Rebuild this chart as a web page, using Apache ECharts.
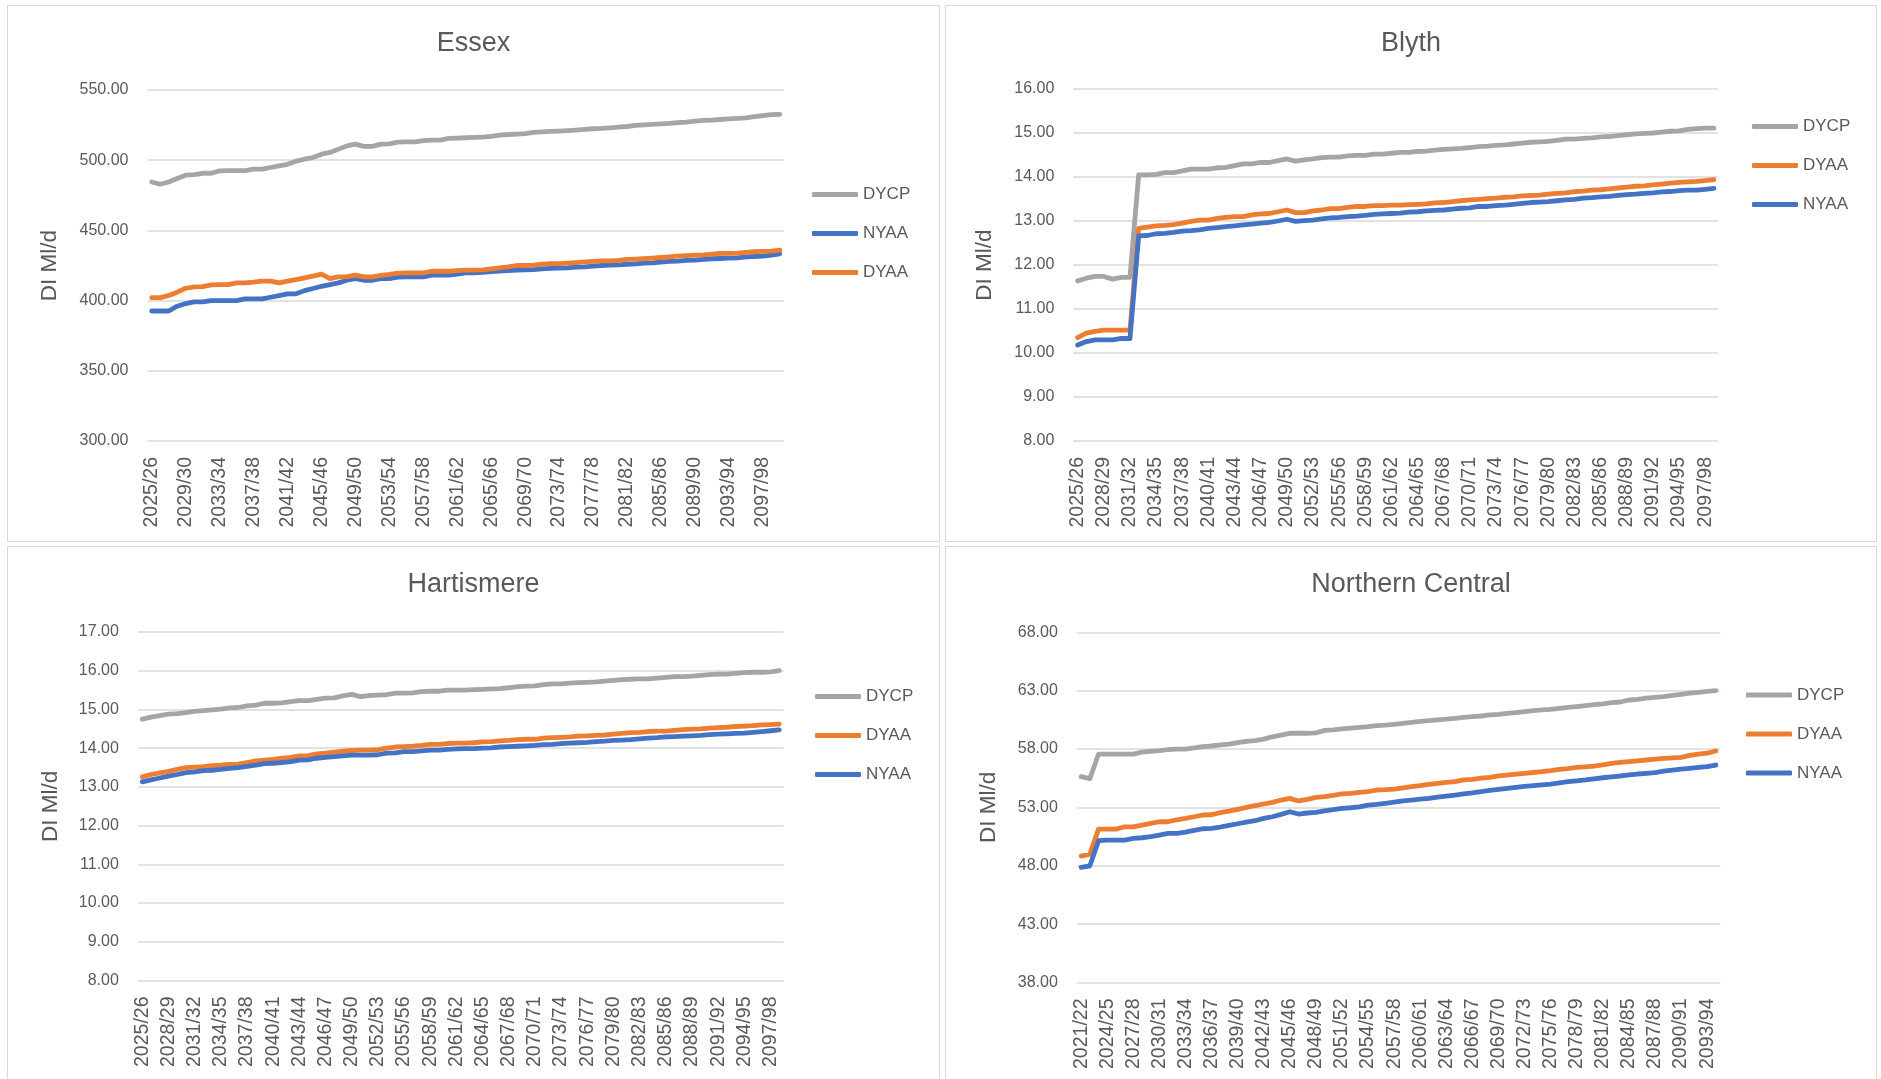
<!DOCTYPE html>
<html>
<head>
<meta charset="utf-8">
<title>Distribution input forecasts</title>
<script src="https://cdn.jsdelivr.net/npm/echarts@6/dist/echarts.min.js"></script>
<style>
  html, body { margin: 0; padding: 0; background: #ffffff; width: 1881px; height: 1079px; overflow: hidden; }
  .panel { position: absolute; box-sizing: border-box; border: 1px solid #d9d9d9; background: #ffffff; }
</style>
</head>
<body>
<div id="essex" class="panel" style="left:7px;top:5px;width:933px;height:537px"></div>
<div id="blyth" class="panel" style="left:945px;top:5px;width:932px;height:537px"></div>
<div id="hartismere" class="panel" style="left:7px;top:546px;width:933px;height:540px"></div>
<div id="northern" class="panel" style="left:945px;top:546px;width:932px;height:540px"></div>
<script>
// Report-year labels such as "2025/26"
function yearLabels(firstYear, count) {
  const out = [];
  for (let k = 0; k < count; k++) {
    const y = firstYear + k;
    out.push(y + '/' + String((y + 1) % 100).padStart(2, '0'));
  }
  return out;
}

// ---- Essex (Ml/d) ----
const essexYears = yearLabels(2025, 75);
const essexDYCP = [484.5, 482.9, 484.5, 486.9, 489.3, 489.8, 490.7, 490.7, 492.4, 492.6, 492.6, 492.6, 493.6, 493.6, 494.8, 496.0, 497.1, 499.3, 500.7, 501.9, 504.3, 505.5, 507.9, 510.2, 511.4, 509.8, 509.8, 511.4, 511.7, 512.9, 513.1, 513.1, 514.0, 514.3, 514.3, 515.5, 515.7,
  516.0, 516.2, 516.5, 516.9, 517.9, 518.3, 518.6, 519.0, 519.8, 520.2, 520.5, 520.7, 521.0, 521.4, 521.9, 522.4, 522.6, 523.1, 523.6, 524.0, 524.8, 525.2, 525.5, 525.9, 526.2, 526.7, 527.1, 527.9, 528.3, 528.6, 529.0, 529.5, 529.8, 530.2, 531.0, 531.7, 532.4, 532.6];
const essexNYAA = [392.6, 392.6, 392.6, 396.0, 397.9, 399.1, 399.1, 400.0, 400.0, 400.0, 400.0, 401.2, 401.2, 401.2, 402.4, 403.6, 404.8, 404.8, 407.1, 408.6, 410.2, 411.4, 412.6, 414.5, 415.7, 414.5, 414.5, 415.7, 415.7, 416.7, 416.9, 416.9, 416.9, 418.1, 418.1, 418.1, 418.8,
  419.8, 419.8, 420.2, 420.7, 421.0, 421.4, 421.7, 421.9, 422.1, 422.6, 422.9, 423.1, 423.3, 423.8, 424.0, 424.5, 425.0, 425.2, 425.5, 425.9, 426.2, 426.7, 426.9, 427.4, 427.9, 428.1, 428.6, 428.8, 429.3, 429.8, 430.0, 430.2, 430.5, 431.2, 431.4, 431.7, 432.4, 433.3];
const essexDYAA = [402.1, 402.1, 403.6, 406.0, 408.8, 409.8, 410.0, 411.2, 411.4, 411.4, 412.6, 412.6, 413.1, 413.8, 413.8, 412.6, 413.8, 415.0, 416.2, 417.4, 418.8, 415.7, 416.9, 417.1, 418.1, 416.9, 416.9, 417.9, 418.6, 419.5, 419.8, 419.8, 419.8, 420.9, 420.9, 420.9, 421.4,
  421.7, 421.7, 421.9, 422.6, 423.3, 424.0, 425.0, 425.0, 425.2, 425.9, 426.4, 426.4, 426.7, 427.1, 427.6, 427.9, 428.3, 428.3, 428.6, 429.3, 429.5, 429.8, 430.2, 430.7, 431.2, 431.7, 432.1, 432.4, 432.6, 433.1, 433.6, 433.6, 433.8, 434.3, 434.8, 435.0, 435.2, 435.9];

// ---- Blyth (Ml/d) ----
const blythYears = yearLabels(2025, 74);
const blythDYCP = [11.64, 11.70, 11.74, 11.74, 11.68, 11.72, 11.72, 14.05, 14.05, 14.06, 14.10, 14.10, 14.14, 14.18, 14.18, 14.18, 14.21, 14.22, 14.26, 14.30, 14.30, 14.33, 14.33, 14.37, 14.41, 14.36, 14.39, 14.41, 14.44, 14.45, 14.45, 14.48, 14.49, 14.49, 14.52, 14.52, 14.54,
  14.56, 14.56, 14.58, 14.59, 14.61, 14.63, 14.64, 14.65, 14.67, 14.69, 14.70, 14.72, 14.73, 14.75, 14.77, 14.79, 14.80, 14.81, 14.83, 14.86, 14.86, 14.88, 14.89, 14.91, 14.92, 14.94, 14.96, 14.98, 14.99, 15.00, 15.02, 15.04, 15.05, 15.08, 15.10, 15.11, 15.11];
const blythDYAA = [10.35, 10.45, 10.49, 10.52, 10.52, 10.52, 10.52, 12.83, 12.86, 12.89, 12.90, 12.92, 12.95, 12.99, 13.02, 13.02, 13.06, 13.08, 13.10, 13.10, 13.14, 13.16, 13.17, 13.21, 13.25, 13.19, 13.19, 13.23, 13.25, 13.28, 13.28, 13.31, 13.33, 13.33, 13.35, 13.35, 13.36,
  13.36, 13.37, 13.38, 13.39, 13.41, 13.42, 13.44, 13.46, 13.48, 13.49, 13.51, 13.52, 13.54, 13.55, 13.57, 13.58, 13.59, 13.61, 13.63, 13.64, 13.67, 13.68, 13.70, 13.71, 13.73, 13.75, 13.77, 13.79, 13.80, 13.82, 13.84, 13.86, 13.88, 13.89, 13.90, 13.92, 13.94];
const blythNYAA = [10.18, 10.26, 10.30, 10.30, 10.30, 10.33, 10.33, 12.66, 12.67, 12.71, 12.72, 12.74, 12.77, 12.78, 12.80, 12.83, 12.85, 12.87, 12.89, 12.91, 12.93, 12.95, 12.97, 13.00, 13.04, 12.99, 13.01, 13.02, 13.05, 13.07, 13.08, 13.10, 13.11, 13.13, 13.15, 13.16, 13.17,
  13.18, 13.20, 13.21, 13.23, 13.24, 13.25, 13.27, 13.29, 13.30, 13.33, 13.33, 13.35, 13.36, 13.38, 13.40, 13.42, 13.43, 13.44, 13.46, 13.48, 13.49, 13.52, 13.53, 13.55, 13.56, 13.58, 13.60, 13.61, 13.63, 13.64, 13.66, 13.67, 13.69, 13.70, 13.70, 13.72, 13.74];

// ---- Hartismere (Ml/d) ----
const hartYears = yearLabels(2025, 74);
const hartDYCP = [14.75, 14.80, 14.84, 14.88, 14.89, 14.92, 14.95, 14.97, 14.99, 15.01, 15.04, 15.05, 15.09, 15.11, 15.16, 15.16, 15.17, 15.20, 15.23, 15.23, 15.26, 15.29, 15.30, 15.35, 15.39, 15.33, 15.36, 15.37, 15.38, 15.42, 15.42, 15.43, 15.46, 15.47, 15.47, 15.50, 15.50, 15.50,
  15.51, 15.52, 15.53, 15.54, 15.56, 15.59, 15.60, 15.61, 15.64, 15.66, 15.66, 15.68, 15.69, 15.70, 15.71, 15.73, 15.75, 15.77, 15.78, 15.79, 15.79, 15.81, 15.83, 15.85, 15.85, 15.86, 15.88, 15.90, 15.91, 15.91, 15.93, 15.95, 15.96, 15.96, 15.97, 16.00];
const hartDYAA = [13.26, 13.32, 13.36, 13.40, 13.45, 13.50, 13.51, 13.52, 13.55, 13.56, 13.58, 13.59, 13.63, 13.67, 13.69, 13.71, 13.74, 13.76, 13.80, 13.81, 13.85, 13.87, 13.90, 13.92, 13.94, 13.95, 13.95, 13.96, 14.00, 14.03, 14.04, 14.05, 14.07, 14.10, 14.10, 14.12, 14.13, 14.13,
  14.14, 14.16, 14.17, 14.19, 14.20, 14.22, 14.23, 14.23, 14.26, 14.27, 14.28, 14.29, 14.31, 14.32, 14.33, 14.34, 14.36, 14.38, 14.40, 14.41, 14.43, 14.44, 14.44, 14.46, 14.48, 14.49, 14.50, 14.52, 14.53, 14.54, 14.56, 14.57, 14.58, 14.60, 14.61, 14.62];
const hartNYAA = [13.13, 13.18, 13.23, 13.28, 13.32, 13.37, 13.39, 13.42, 13.43, 13.45, 13.48, 13.50, 13.53, 13.56, 13.60, 13.61, 13.63, 13.65, 13.69, 13.70, 13.74, 13.76, 13.78, 13.80, 13.82, 13.82, 13.82, 13.83, 13.87, 13.88, 13.91, 13.91, 13.93, 13.95, 13.95, 13.97, 13.98, 13.99,
  13.99, 14.00, 14.01, 14.03, 14.04, 14.05, 14.06, 14.07, 14.09, 14.10, 14.12, 14.13, 14.14, 14.15, 14.17, 14.18, 14.20, 14.21, 14.22, 14.24, 14.26, 14.27, 14.29, 14.30, 14.31, 14.32, 14.33, 14.35, 14.36, 14.37, 14.38, 14.39, 14.41, 14.43, 14.45, 14.47];

// ---- Northern Central (Ml/d) ----
const ncYears = yearLabels(2021, 74);
const ncDYCP = [55.63, 55.46, 57.57, 57.57, 57.57, 57.57, 57.57, 57.74, 57.80, 57.86, 57.95, 58.00, 58.00, 58.09, 58.20, 58.26, 58.35, 58.43, 58.55, 58.66, 58.72, 58.85, 59.05, 59.20, 59.35, 59.35, 59.35, 59.38, 59.60, 59.65, 59.72, 59.80, 59.86, 59.92, 60.00, 60.05, 60.12, 60.20,
  60.29, 60.36, 60.43, 60.50, 60.57, 60.62, 60.72, 60.78, 60.83, 60.92, 60.97, 61.05, 61.12, 61.20, 61.29, 61.35, 61.40, 61.48, 61.57, 61.64, 61.72, 61.80, 61.86, 61.97, 62.03, 62.20, 62.25, 62.37, 62.43, 62.49, 62.60, 62.69, 62.78, 62.86, 62.93, 63.00];
const ncDYAA = [48.83, 49.00, 51.14, 51.14, 51.14, 51.34, 51.34, 51.49, 51.63, 51.77, 51.77, 51.94, 52.06, 52.20, 52.35, 52.37, 52.55, 52.69, 52.83, 53.00, 53.15, 53.29, 53.43, 53.63, 53.77, 53.55, 53.69, 53.86, 53.92, 54.03, 54.15, 54.20, 54.29, 54.35, 54.49, 54.52, 54.57, 54.68,
  54.77, 54.87, 54.97, 55.06, 55.15, 55.20, 55.35, 55.40, 55.50, 55.57, 55.70, 55.77, 55.85, 55.92, 55.99, 56.06, 56.15, 56.26, 56.33, 56.43, 56.48, 56.54, 56.65, 56.77, 56.85, 56.92, 56.99, 57.06, 57.13, 57.20, 57.25, 57.29, 57.45, 57.57, 57.65, 57.83];
const ncNYAA = [47.86, 48.00, 50.15, 50.20, 50.20, 50.20, 50.35, 50.40, 50.49, 50.63, 50.77, 50.77, 50.89, 51.03, 51.17, 51.20, 51.32, 51.46, 51.60, 51.74, 51.86, 52.06, 52.20, 52.40, 52.63, 52.43, 52.52, 52.58, 52.70, 52.80, 52.92, 52.97, 53.05, 53.20, 53.26, 53.35, 53.45, 53.55,
  53.63, 53.70, 53.77, 53.87, 53.97, 54.05, 54.15, 54.25, 54.35, 54.45, 54.54, 54.63, 54.72, 54.80, 54.86, 54.93, 55.00, 55.10, 55.20, 55.28, 55.35, 55.45, 55.54, 55.62, 55.69, 55.78, 55.86, 55.92, 55.97, 56.10, 56.20, 56.28, 56.35, 56.42, 56.49, 56.63];

// ---- Styling ----
const GREY = '#A5A5A5', BLUE = '#4472C4', ORANGE = '#ED7D31';
const TEXT = '#595959';
const FONT = "'Liberation Sans', Arial, sans-serif";

function buildPanel(id, cfg) {
  const chart = echarts.init(document.getElementById(id), null, { renderer: 'canvas' });
  chart.setOption({
    animation: false,
    backgroundColor: '#ffffff',
    title: {
      text: cfg.title,
      left: 'center',
      top: cfg.titleTop,
      textStyle: { fontFamily: FONT, fontSize: 27, fontWeight: 'normal', color: TEXT }
    },
    grid: { left: cfg.grid[0], top: cfg.grid[1], width: cfg.grid[2], height: cfg.grid[3], containLabel: false },
    legend: {
      orient: 'vertical',
      left: cfg.legend[0],
      top: cfg.legend[1],
      icon: 'roundRect',
      itemWidth: 46,
      itemHeight: 5,
      itemGap: 22,
      padding: 0,
      textStyle: { fontFamily: FONT, fontSize: 17, color: TEXT },
      data: cfg.series.map(s => s.name)
    },
    xAxis: {
      type: 'category',
      data: cfg.categories,
      boundaryGap: true,
      axisLine: { show: false },
      axisTick: { show: false },
      splitLine: { show: false },
      axisLabel: {
        interval: cfg.labelStep - 1,
        rotate: 90,
        margin: 16,
        fontFamily: FONT,
        fontSize: 19.5,
        color: TEXT
      }
    },
    yAxis: {
      type: 'value',
      min: cfg.y[0],
      max: cfg.y[1],
      interval: cfg.y[2],
      name: 'DI Ml/d',
      nameLocation: 'middle',
      nameGap: cfg.nameGap,
      nameTextStyle: { fontFamily: FONT, fontSize: 22.5, color: TEXT },
      axisLine: { show: false },
      axisTick: { show: false },
      axisLabel: {
        formatter: v => v.toFixed(2),
        margin: 19,
        fontFamily: FONT,
        fontSize: 16,
        color: TEXT
      },
      splitLine: { lineStyle: { color: '#d9d9d9', width: 1.6 } }
    },
    series: cfg.series.map(s => ({
      type: 'line',
      name: s.name,
      data: s.data,
      symbol: 'none',
      smooth: false,
      itemStyle: { color: s.color },
      lineStyle: { color: s.color, width: 4.8, cap: 'round', join: 'round' }
    }))
  });
}

buildPanel('essex', {
  title: 'Essex', titleTop: 19.5,
  grid: [139.5, 84, 636.5, 351],
  legend: [804, 180],
  categories: essexYears, labelStep: 4,
  y: [300, 550, 50], nameGap: 86,
  series: [
    { name: 'DYCP', data: essexDYCP, color: GREY },
    { name: 'NYAA', data: essexNYAA, color: BLUE },
    { name: 'DYAA', data: essexDYAA, color: ORANGE }
  ]
});

buildPanel('blyth', {
  title: 'Blyth', titleTop: 19.5,
  grid: [127.3, 83, 645, 352],
  legend: [806, 112],
  categories: blythYears, labelStep: 3,
  y: [8, 16, 1], nameGap: 77,
  series: [
    { name: 'DYCP', data: blythDYCP, color: GREY },
    { name: 'DYAA', data: blythDYAA, color: ORANGE },
    { name: 'NYAA', data: blythNYAA, color: BLUE }
  ]
});

buildPanel('hartismere', {
  title: 'Hartismere', titleTop: 19.5,
  grid: [129.9, 85, 645.7, 348.5],
  legend: [807, 141],
  categories: hartYears, labelStep: 3,
  y: [8, 17, 1], nameGap: 76,
  series: [
    { name: 'DYCP', data: hartDYCP, color: GREY },
    { name: 'DYAA', data: hartDYAA, color: ORANGE },
    { name: 'NYAA', data: hartNYAA, color: BLUE }
  ]
});

buildPanel('northern', {
  title: 'Northern Central', titleTop: 19.5,
  grid: [130.8, 85.3, 643.4, 350.2],
  legend: [800, 139.5],
  categories: ncYears, labelStep: 3,
  y: [38, 68, 5], nameGap: 77,
  series: [
    { name: 'DYCP', data: ncDYCP, color: GREY },
    { name: 'DYAA', data: ncDYAA, color: ORANGE },
    { name: 'NYAA', data: ncNYAA, color: BLUE }
  ]
});
</script>
</body>
</html>
